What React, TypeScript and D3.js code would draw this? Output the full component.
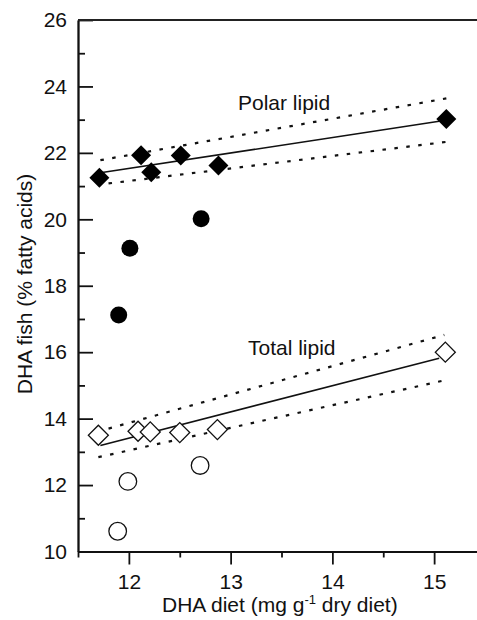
import React, { useEffect, useRef } from 'react';
import * as d3 from 'd3';

// polar lipid (filled diamonds) and the matching filled circles
const polarX = [11.71, 12.12, 12.22, 12.51, 12.88, 15.12];
const polarY = [21.25, 21.93, 21.42, 21.92, 21.62, 23.02];
const polarOddX = [11.9, 12.01, 12.71];
const polarOddY = [17.12, 19.13, 20.02];

// total lipid (open diamonds) and open circles
const totalX = [11.7, 12.09, 12.21, 12.5, 12.87, 15.11];
const totalY = [13.5, 13.62, 13.6, 13.58, 13.67, 16.0];
const totalOddX = [11.89, 11.99, 12.7];
const totalOddY = [10.61, 12.11, 12.59];

// regression lines with their confidence bands
const polarFitX = [11.72, 15.05];
const polarFitY = [21.4, 22.95];
const polarUpX = [11.72, 15.12];
const polarUpY = [21.78, 23.64];
const polarLoX = [11.8, 15.12];
const polarLoY = [21.08, 22.33];

const totalFitX = [11.72, 15.05];
const totalFitY = [13.19, 15.82];
const totalUpX = [11.8, 15.1];
const totalUpY = [13.7, 16.52];
const totalLoX = [11.7, 15.1];
const totalLoY = [12.84, 15.15];

const xMajor = [12, 13, 14, 15];
const xMinor = [11.5, 12.5, 13.5, 14.5, 15.5];
const yMajor = [10, 12, 14, 16, 18, 20, 22, 24, 26];
const yMinor = [11, 13, 15, 17, 19, 21, 23, 25];

const W = 477, H = 620;
const FONT = 'Liberation Sans, Arial, Helvetica, sans-serif';

export default function App() {
  const svgRef = useRef<SVGSVGElement>(null);

  useEffect(() => {
    const svg = d3.select(svgRef.current);
    svg.selectAll('*').remove();

    const x = d3.scaleLinear().domain([11.5, 15.5]).range([78, 485]);
    const y = d3.scaleLinear().domain([10, 26]).range([551.5, 20]);

    // axes
    const gy = svg.append('g').attr('transform', `translate(${x(11.5)},0)`);
    gy.call(d3.axisLeft(y).tickValues(yMajor).tickSize(-15).tickSizeOuter(0).tickPadding(11).tickFormat(d3.format('d')));
    gy.append('g').call(d3.axisLeft(y).tickValues(yMinor).tickSize(-7).tickSizeOuter(0).tickFormat(() => ''));

    const gx = svg.append('g').attr('transform', `translate(0,${y(10)})`);
    gx.call(d3.axisBottom(x).tickValues(xMajor).tickSize(13).tickSizeOuter(0).tickPadding(10).tickFormat(d3.format('d')));
    gx.append('g').call(d3.axisBottom(x).tickValues(xMinor).tickSize(6).tickSizeOuter(0).tickFormat(() => ''));

    svg.selectAll('.domain, .tick line').attr('stroke', '#111').attr('stroke-width', 1.8);
    svg.selectAll('.tick text').attr('font-family', FONT).attr('font-size', 21).attr('fill', '#111');
    gy.selectAll('.tick text').attr('x', -11);

    // top frame
    svg.append('line')
      .attr('x1', x(11.5)).attr('x2', W)
      .attr('y1', y(26)).attr('y2', y(26))
      .attr('stroke', '#222').attr('stroke-width', 1.8);

    const line = (xs: number[], ys: number[]) =>
      d3.line<number>().x((d) => x(d)).y((_, i) => y(ys[i]))(xs);

    const drawFit = (xs: number[], ys: number[]) =>
      svg.append('path').attr('d', line(xs, ys)).attr('fill', 'none')
        .attr('stroke', '#111').attr('stroke-width', 1.6);
    const drawBand = (xs: number[], ys: number[]) =>
      svg.append('path').attr('d', line(xs, ys)).attr('fill', 'none')
        .attr('stroke', '#111').attr('stroke-width', 2.2).attr('stroke-dasharray', '3.5 8.5');

    drawBand(polarUpX, polarUpY);
    drawBand(polarLoX, polarLoY);
    drawFit(polarFitX, polarFitY);
    drawBand(totalUpX, totalUpY);
    drawBand(totalLoX, totalLoY);
    drawFit(totalFitX, totalFitY);

    const diamond = d3.symbol().type(d3.symbolSquare).size(200);

    svg.append('g').selectAll('path').data(polarX).join('path')
      .attr('d', diamond)
      .attr('transform', (d, i) => `translate(${x(d)},${y(polarY[i])}) rotate(45)`)
      .attr('fill', '#000');

    svg.append('g').selectAll('path').data(totalX).join('path')
      .attr('d', diamond)
      .attr('transform', (d, i) => `translate(${x(d)},${y(totalY[i])}) rotate(45)`)
      .attr('fill', '#fff').attr('stroke', '#111').attr('stroke-width', 1.3);

    svg.append('g').selectAll('circle').data(polarOddX).join('circle')
      .attr('cx', (d) => x(d)).attr('cy', (_, i) => y(polarOddY[i]))
      .attr('r', 8.5).attr('fill', '#000');

    svg.append('g').selectAll('circle').data(totalOddX).join('circle')
      .attr('cx', (d) => x(d)).attr('cy', (_, i) => y(totalOddY[i]))
      .attr('r', 8.8).attr('fill', '#fff').attr('stroke', '#111').attr('stroke-width', 1.3);

    // series labels
    svg.append('text').attr('x', 238).attr('y', 110)
      .attr('font-family', FONT).attr('font-size', 21).attr('fill', '#111').text('Polar lipid');
    svg.append('text').attr('x', 248).attr('y', 355)
      .attr('font-family', FONT).attr('font-size', 21).attr('fill', '#111').text('Total lipid');

    // axis titles
    svg.append('text')
      .attr('transform', `translate(32,${(172 + 396) / 2}) rotate(-90)`)
      .attr('text-anchor', 'middle')
      .attr('font-family', FONT).attr('font-size', 21).attr('fill', '#111')
      .text('DHA fish (% fatty acids)');

    const xt = svg.append('text').attr('x', 162).attr('y', 612)
      .attr('font-family', FONT).attr('font-size', 21).attr('fill', '#111');
    xt.append('tspan').text('DHA diet (mg g');
    xt.append('tspan').attr('font-size', 13).attr('dy', -8).text('-1');
    xt.append('tspan').attr('dy', 8).text(' dry diet)');
  }, []);

  return (
    <svg ref={svgRef} width={W} height={H}
      style={{ position: 'absolute', left: 0, top: 0, background: '#fff' }} />
  );
}
